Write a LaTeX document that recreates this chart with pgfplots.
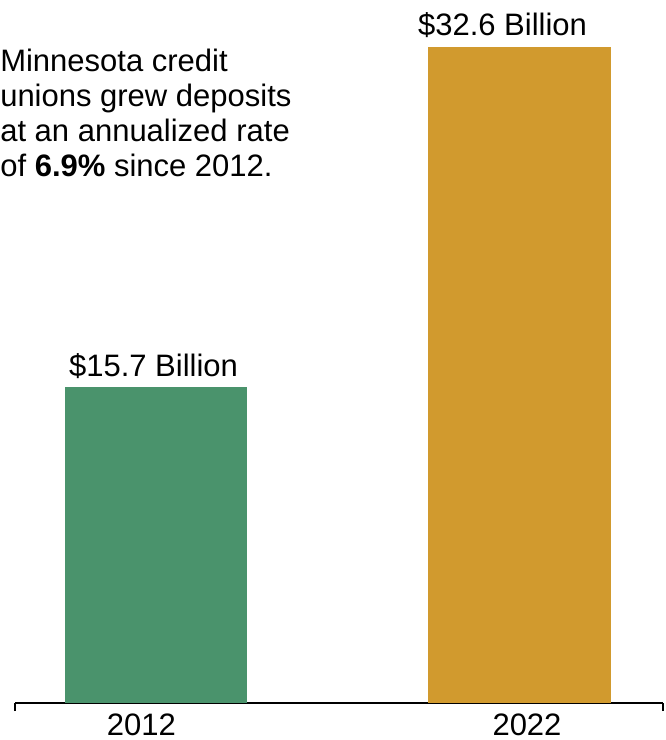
\documentclass[border=0pt]{standalone}
\usepackage{fontspec}
\setmainfont{Liberation Sans}
\usepackage{pgfplots}
\pgfplotsset{compat=1.18}
\definecolor{mngreen}{HTML}{4A936C}
\definecolor{mngold}{HTML}{D19A2E}
\begin{document}
\begin{tikzpicture}[font=\fontsize{23.25pt}{27pt}\selectfont]
\path[use as bounding box] (0,0) rectangle (498.75pt,555pt);
\begin{axis}[
  at={(11.25pt,27.75pt)}, anchor=south west,
  scale only axis, width=486pt, height=527.25pt,
  xmin=15, xmax=663, ymin=0, ymax=34.935,
  axis y line=none, axis x line*=bottom,
  xtick={15,663}, xticklabels={},
  ytick=\empty,
  tick align=outside, major tick length=6pt,
  every tick/.style={black, line width=0.8pt},
  x axis line style={black, line width=0.8pt},
  clip=false,
]
\addplot[ybar, fill=mngreen, draw=none, bar width=182.5] coordinates {(156,15.7)};
\addplot[ybar, fill=mngold, draw=none, bar width=182.5] coordinates {(519.5,32.6)};
\node[anchor=base, inner sep=0pt, yshift=8.25pt] at (axis cs:153.5,15.7) {\$15.7 Billion};
\node[anchor=base, inner sep=0pt, yshift=8.25pt] at (axis cs:502.5,32.6) {\$32.6 Billion};
\end{axis}
\node[anchor=base, inner sep=0pt] at (106.1pt,3.75pt) {2012};
\node[anchor=base, inner sep=0pt] at (395.25pt,3.75pt) {2022};
\node[anchor=base west, inner sep=0pt] at (0pt,501pt) {Minnesota credit};
\node[anchor=base west, inner sep=0pt] at (0pt,474.75pt) {unions grew deposits};
\node[anchor=base west, inner sep=0pt] at (0pt,448.5pt) {at an annualized rate};
\node[anchor=base west, inner sep=0pt] at (0pt,422.25pt) {of \textbf{6.9\%} since 2012.};
\end{tikzpicture}
\end{document}
